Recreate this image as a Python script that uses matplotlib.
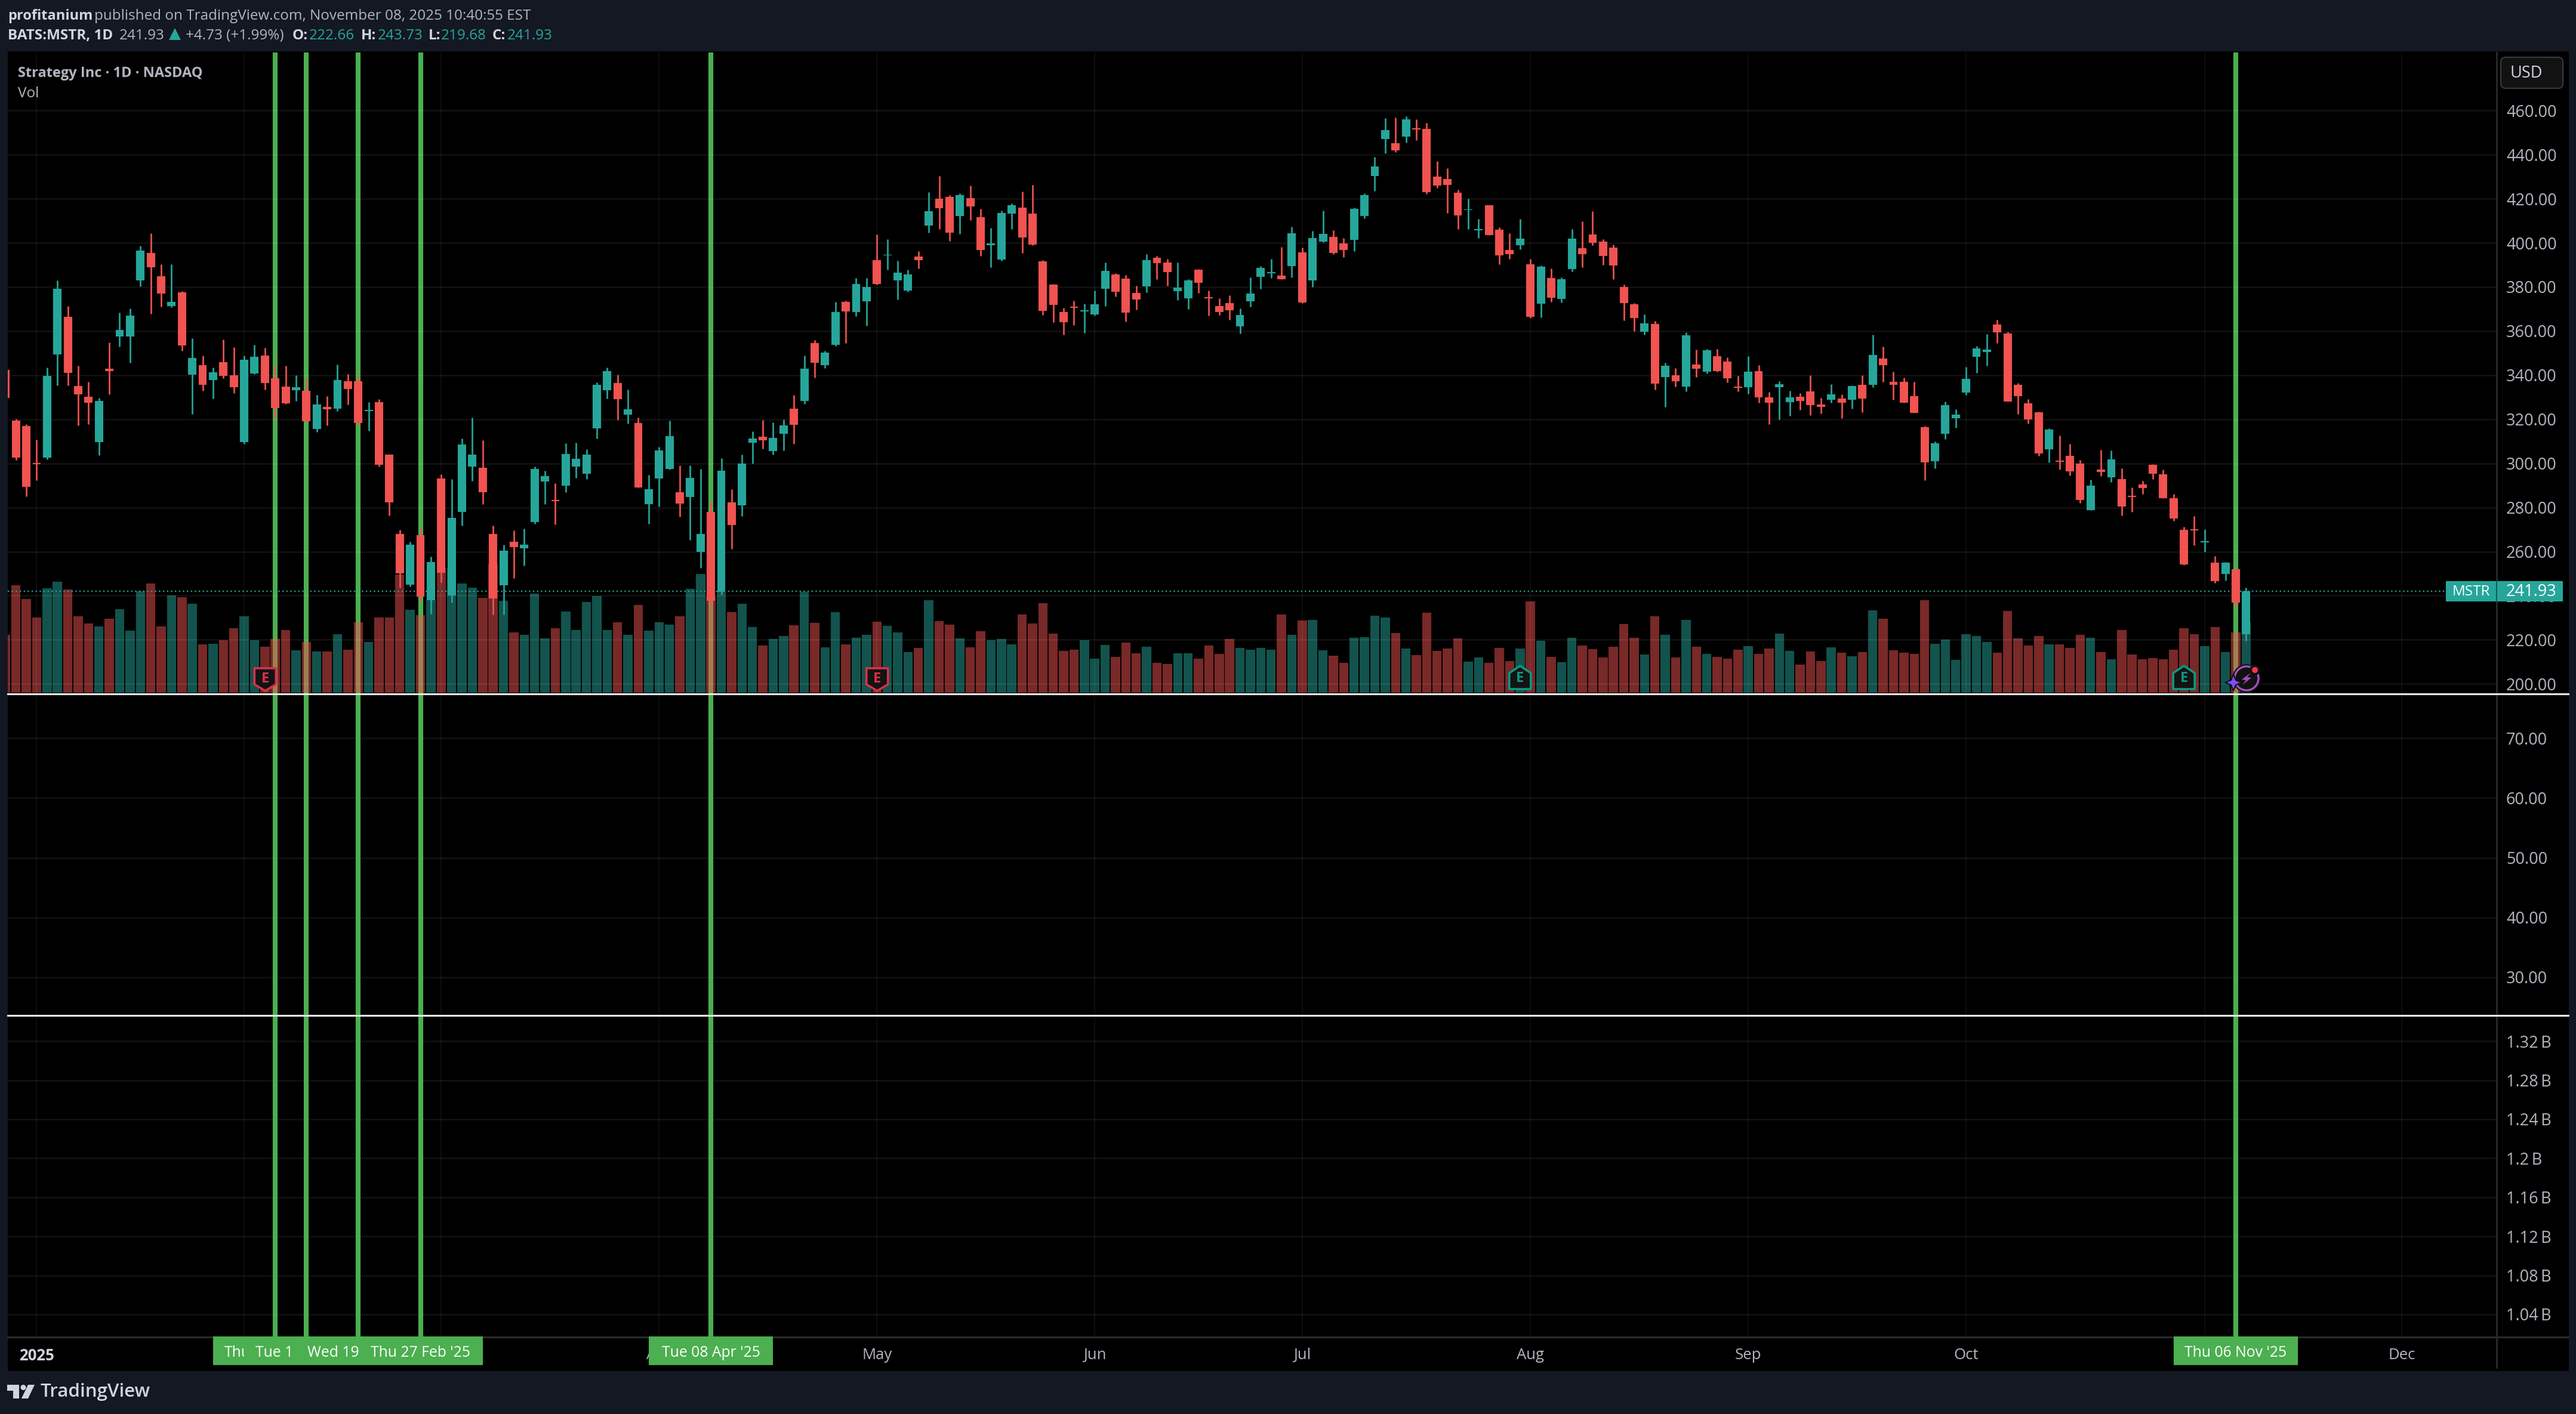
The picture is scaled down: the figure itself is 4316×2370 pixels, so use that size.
import matplotlib
matplotlib.use("Agg")
import matplotlib.pyplot as plt
from matplotlib.patches import Rectangle, Polygon, Circle, FancyBboxPatch
import numpy as np

# Daily MSTR candles, first entry is the bar clipped by the left edge
opens = [342.4,
    319.4, 317.0, 300.2, 302.7, 349.5, 366.4, 335.2, 330.2, 309.7, 342.8,
    357.5, 357.5, 383.0, 395.4, 384.9, 371.4, 377.6, 340.1, 344.5, 337.9,
    345.9, 339.9, 309.7, 340.8, 348.8, 338.7, 334.8, 333.1, 332.9, 315.7,
    325.5, 324.8, 337.2, 337.2, 323.8, 327.7, 303.9, 268.1, 245.0, 267.5,
    237.9, 293.2, 240.0, 278.0, 298.5, 298.1, 268.1, 244.7, 264.6, 261.5,
    273.5, 291.9, 283.4, 289.8, 298.5, 295.4, 315.9, 333.1, 336.4, 322.1,
    318.4, 281.6, 293.1, 297.5, 286.8, 284.8, 260.0, 278.1, 241.7, 282.4,
    281.0, 309.4, 312.1, 305.6, 313.4, 324.8, 328.2, 354.5, 344.5, 353.8,
    373.2, 368.6, 373.5, 392.2, 394.2, 382.9, 378.4, 393.8, 407.9, 420.1,
    420.8, 412.1, 420.2, 411.6, 398.9, 392.4, 413.2, 415.9, 413.2, 391.6,
    381.1, 368.6, 371.0, 368.8, 367.6, 379.1, 385.7, 383.9, 377.3, 380.2,
    393.3, 391.1, 378.1, 374.8, 387.7, 375.3, 371.4, 372.6, 362.1, 373.5,
    384.6, 386.2, 385.1, 389.5, 395.6, 382.9, 400.5, 402.7, 399.8, 401.4,
    412.1, 430.2, 447.1, 445.3, 448.2, 452.0, 451.6, 430.0, 429.0, 422.8,
    414.8, 405.8, 417.0, 406.0, 396.7, 398.9, 390.2, 372.4, 384.0, 374.6,
    388.2, 397.6, 403.8, 400.5, 397.8, 380.0, 372.1, 359.8, 363.2, 339.1,
    340.0, 334.8, 344.9, 341.6, 348.5, 346.2, 334.8, 334.6, 341.8, 329.9,
    334.6, 327.7, 330.2, 332.6, 326.8, 328.8, 329.3, 328.8, 335.7, 335.7,
    347.6, 336.9, 336.9, 330.4, 316.5, 301.1, 313.4, 320.5, 332.0, 348.4,
    350.5, 362.9, 359.0, 335.6, 327.3, 323.2, 306.4, 301.2, 303.5, 300.0,
    278.9, 297.3, 293.8, 293.0, 285.3, 290.5, 299.4, 295.0, 284.3, 270.0,
    270.2, 264.2, 255.1, 249.9, 252.0, 222.66]
closes = [329.6,
    302.7, 289.4, 299.6, 339.7, 379.3, 341.0, 331.2, 327.5, 328.3, 341.8,
    360.4, 367.1, 396.4, 389.0, 377.0, 373.3, 353.4, 347.8, 335.6, 341.4,
    339.7, 334.6, 347.0, 348.4, 336.4, 325.0, 327.3, 334.6, 319.0, 326.7,
    324.6, 337.9, 333.7, 318.4, 324.2, 299.4, 282.4, 250.1, 263.1, 239.5,
    255.3, 250.5, 275.2, 308.7, 303.9, 286.9, 238.7, 260.5, 262.1, 263.1,
    297.5, 294.2, 282.8, 304.3, 302.0, 303.9, 335.6, 341.8, 329.0, 324.6,
    289.0, 288.4, 306.0, 312.3, 281.9, 293.5, 267.9, 237.7, 296.7, 272.1,
    300.0, 311.2, 310.5, 311.6, 317.2, 317.6, 342.9, 345.5, 350.2, 368.6,
    368.8, 381.3, 380.0, 381.3, 394.7, 386.6, 385.7, 392.2, 414.3, 415.7,
    404.7, 421.7, 416.5, 396.7, 399.8, 413.6, 417.0, 402.5, 399.2, 369.2,
    371.9, 364.1, 370.5, 369.4, 372.1, 387.3, 377.9, 368.3, 374.3, 392.2,
    390.7, 386.8, 379.7, 382.9, 381.9, 374.8, 368.6, 369.4, 367.4, 377.0,
    388.6, 386.8, 383.5, 404.3, 373.0, 402.1, 404.1, 395.4, 396.7, 415.4,
    421.7, 434.6, 451.1, 442.0, 455.9, 451.4, 423.0, 426.1, 426.2, 412.5,
    415.2, 406.3, 403.6, 394.4, 394.9, 402.0, 366.5, 389.1, 375.2, 383.5,
    402.0, 394.9, 400.0, 394.0, 389.6, 372.6, 365.9, 363.6, 336.2, 344.4,
    337.3, 358.1, 342.9, 351.2, 341.8, 338.6, 334.2, 341.6, 329.9, 327.4,
    335.9, 329.9, 328.2, 326.3, 325.7, 331.3, 327.5, 335.1, 329.3, 349.1,
    344.5, 335.7, 327.5, 323.0, 300.5, 309.0, 326.4, 322.1, 338.4, 352.2,
    351.5, 359.4, 328.1, 330.4, 319.9, 304.5, 315.3, 300.6, 296.5, 283.4,
    289.8, 296.0, 301.9, 280.5, 284.7, 288.8, 295.4, 284.3, 275.1, 254.2,
    269.6, 264.8, 246.6, 255.1, 236.9, 241.93]
highs = [342.4,
    320.1, 317.8, 310.8, 343.5, 383.0, 371.4, 344.3, 337.0, 329.6, 354.8,
    368.3, 370.2, 398.7, 404.3, 390.2, 390.2, 378.0, 356.7, 348.8, 343.5,
    356.3, 352.8, 348.8, 353.8, 352.4, 344.5, 344.3, 339.9, 338.5, 331.0,
    330.4, 344.9, 340.6, 339.9, 327.7, 329.0, 303.9, 270.0, 264.6, 271.0,
    257.6, 295.0, 293.0, 311.4, 320.7, 310.5, 271.8, 263.1, 269.6, 270.4,
    298.5, 296.7, 291.1, 309.1, 309.3, 306.4, 336.6, 343.5, 340.1, 333.5,
    320.7, 294.8, 307.4, 319.4, 299.1, 299.1, 297.5, 283.0, 302.3, 288.2,
    304.0, 314.5, 319.7, 318.6, 319.9, 331.0, 348.9, 356.0, 351.1, 373.2,
    373.7, 384.0, 384.0, 403.8, 401.6, 391.8, 387.8, 396.2, 423.0, 430.2,
    421.7, 422.4, 426.1, 415.4, 406.9, 414.5, 417.9, 423.3, 426.2, 392.2,
    381.3, 370.5, 373.7, 372.4, 378.4, 391.1, 386.2, 385.5, 380.6, 394.9,
    394.0, 392.7, 391.1, 383.5, 388.2, 378.4, 374.8, 376.2, 370.3, 384.4,
    389.5, 392.7, 398.2, 407.4, 397.8, 405.4, 414.6, 405.8, 402.1, 416.1,
    422.4, 438.9, 456.5, 456.8, 457.4, 455.9, 454.3, 437.1, 433.8, 424.1,
    420.1, 410.8, 417.0, 407.0, 404.3, 410.8, 392.7, 389.8, 388.4, 384.2,
    406.3, 409.8, 414.3, 401.6, 399.3, 381.1, 372.6, 367.6, 364.7, 345.5,
    343.3, 359.4, 351.6, 351.8, 351.8, 348.0, 339.7, 348.5, 344.5, 332.4,
    337.3, 333.0, 331.9, 340.0, 329.7, 336.0, 331.3, 335.3, 340.0, 358.3,
    352.9, 341.6, 338.8, 336.9, 317.0, 310.0, 328.1, 324.6, 343.8, 353.2,
    358.6, 365.2, 359.6, 336.4, 329.0, 323.4, 315.9, 312.6, 308.9, 301.6,
    292.7, 306.2, 305.8, 297.7, 289.0, 292.1, 299.6, 297.3, 286.1, 271.2,
    276.2, 270.2, 258.0, 255.3, 252.0, 243.73]
lows = [329.6,
    301.6, 285.1, 292.3, 301.9, 335.4, 335.4, 317.2, 317.8, 303.7, 331.2,
    353.0, 345.7, 380.3, 367.9, 371.0, 370.8, 351.1, 322.3, 332.9, 329.4,
    338.7, 331.9, 308.9, 340.4, 333.5, 320.5, 326.9, 328.3, 318.6, 314.3,
    317.2, 323.8, 326.7, 317.2, 314.9, 298.7, 276.4, 243.7, 244.1, 237.3,
    231.7, 246.2, 236.9, 271.8, 292.1, 281.4, 231.5, 231.5, 248.0, 253.6,
    272.7, 281.6, 272.2, 286.9, 293.4, 293.0, 311.4, 329.4, 319.7, 318.0,
    289.0, 272.7, 280.4, 297.1, 275.9, 265.4, 252.5, 235.9, 240.4, 261.2,
    276.1, 300.0, 306.7, 304.0, 306.0, 308.9, 327.0, 338.9, 343.3, 353.2,
    354.5, 366.8, 362.5, 381.1, 387.7, 374.3, 377.9, 388.4, 404.7, 406.3,
    400.9, 404.1, 410.3, 394.0, 388.9, 392.0, 406.3, 395.4, 398.9, 367.4,
    364.1, 358.3, 362.7, 359.2, 367.0, 371.4, 375.7, 364.3, 369.7, 377.5,
    383.5, 380.6, 374.1, 369.9, 377.3, 367.0, 367.4, 365.2, 358.9, 371.0,
    379.1, 384.0, 383.4, 384.4, 372.8, 380.0, 400.3, 395.0, 393.5, 396.2,
    411.2, 423.5, 440.5, 441.1, 445.4, 446.5, 422.3, 425.0, 413.6, 406.3,
    406.3, 402.1, 403.6, 390.2, 392.7, 397.1, 365.8, 366.3, 373.2, 373.0,
    387.1, 388.9, 398.9, 390.0, 383.5, 364.8, 360.0, 358.3, 333.5, 325.7,
    334.8, 332.6, 339.1, 340.7, 341.6, 336.8, 332.6, 331.5, 327.5, 317.7,
    320.0, 321.5, 324.3, 321.9, 322.6, 327.5, 320.5, 324.8, 323.2, 334.6,
    336.9, 328.8, 327.5, 323.0, 292.4, 297.8, 311.0, 316.1, 330.9, 341.0,
    344.3, 354.6, 328.1, 322.3, 318.0, 303.5, 300.4, 297.3, 294.6, 282.0,
    278.9, 294.2, 291.5, 276.4, 278.0, 286.1, 293.0, 284.3, 273.9, 254.0,
    262.9, 259.8, 245.8, 247.0, 234.8, 219.68]
volumes_m = [19.4,
    36.0, 31.4, 25.2, 35.0, 37.3, 34.6, 25.6, 23.3, 22.3, 24.9,
    28.0, 20.8, 34.0, 36.6, 22.3, 32.6, 32.0, 29.8, 16.2, 16.4,
    17.7, 21.7, 25.6, 17.6, 15.5, 18.0, 21.1, 14.2, 17.0, 13.8,
    13.8, 19.6, 14.4, 23.7, 17.1, 25.2, 25.2, 39.6, 27.8, 26.0,
    31.0, 42.0, 41.8, 36.6, 35.3, 31.8, 43.0, 30.8, 20.2, 19.4,
    33.2, 18.2, 21.6, 27.2, 21.1, 30.4, 32.4, 21.1, 23.6, 19.4,
    29.4, 20.8, 23.6, 22.8, 25.6, 34.8, 39.8, 32.2, 33.8, 27.1,
    29.9, 22.1, 15.8, 18.1, 19.0, 22.6, 33.8, 23.5, 15.3, 27.1,
    16.2, 18.5, 19.4, 23.9, 22.4, 20.2, 13.7, 15.0, 31.1, 24.0,
    22.8, 18.2, 15.3, 20.6, 17.7, 18.1, 16.2, 26.3, 23.2, 30.0,
    19.8, 14.1, 14.5, 17.7, 11.4, 16.1, 12.1, 16.9, 13.3, 15.4,
    10.1, 9.6, 13.3, 13.3, 11.4, 15.8, 13.0, 18.1, 15.0, 14.5,
    15.0, 14.5, 26.3, 19.4, 24.3, 24.4, 14.2, 12.5, 10.1, 18.5,
    18.6, 25.9, 25.2, 20.1, 14.9, 12.6, 26.8, 14.1, 14.9, 18.2,
    10.5, 11.8, 10.1, 15.0, 10.6, 14.9, 30.7, 17.4, 12.1, 10.2,
    18.5, 15.8, 14.6, 11.8, 15.4, 23.0, 18.5, 12.9, 25.6, 19.4,
    11.8, 24.4, 15.4, 13.0, 12.1, 11.4, 14.5, 15.7, 13.0, 14.9,
    19.8, 14.1, 9.4, 13.8, 10.6, 15.3, 13.4, 12.2, 13.7, 27.6,
    24.8, 14.2, 13.4, 13.0, 31.1, 16.5, 17.8, 11.0, 19.7, 19.1,
    17.0, 13.5, 27.4, 18.2, 15.8, 19.1, 16.2, 16.2, 15.0, 19.4,
    18.4, 13.6, 11.2, 21.1, 12.9, 11.2, 11.6, 11.3, 14.4, 21.7,
    19.7, 15.6, 22.0, 13.6, 20.2, 23.7]

last_price = 241.93

# Bar numbers of the month marks, signal lines and earnings flags
# Feb, Mar and Nov sit behind the green date boxes, so only their grid lines show
month_idx = [3, 23, 42, 63, 84, 105, 125, 147, 168, 189, 212, 231]
month_labels = ["2025", "", "", "Apr", "May", "Jun", "Jul", "Aug", "Sep", "Oct", "", "Dec"]
signal_idx = [26, 29, 34, 40, 68, 215]
# the first three date boxes are overlapped, only the start of their text shows
signal_labels = ["Thu", "Tue 1", "Wed 19", "Thu 27 Feb '25", "Tue 08 Apr '25", "Thu 06 Nov '25"]
earn_idx_down = [25, 84]
earn_idx_up = [146, 210]

price_ticks = list(range(200, 480, 20))
mid_ticks = [30, 40, 50, 60, 70]
vol_ticks = [1.04, 1.08, 1.12, 1.16, 1.2, 1.24, 1.28, 1.32]
vol_tick_labels = ["1.04\u2009B", "1.08\u2009B", "1.12\u2009B", "1.16\u2009B", "1.2\u2009B",
                   "1.24\u2009B", "1.28\u2009B", "1.32\u2009B"]

W, H = 4316, 2370
UP = "#26a69a"
DOWN = "#f05350"
SIGNAL = "#4caf50"
FRAME = "#131823"
TXT = "#b2b5be"
FONT = "Open Sans"
HEAD = 17.5
plt.rcParams["font.family"] = [FONT, "DejaVu Sans"]

LEFT, RIGHT = 13, 4183
BAR_W = 17.38
X0 = 9.32  # pixel position of bar 0


def px(i):
    return X0 + BAR_W * i


def pane(top, bottom):
    return fig.add_axes([LEFT / W, 1 - bottom / H, (RIGHT - LEFT) / W, (bottom - top) / H])


fig = plt.figure(figsize=(W / 100, H / 100), dpi=100, facecolor=FRAME)

# black chart frame behind everything
back = fig.add_axes([0, 0, 1, 1], zorder=-1)
back.set_xlim(0, W)
back.set_ylim(H, 0)
back.axis("off")
back.add_patch(Rectangle((LEFT, 86), 4304 - LEFT, 2298 - 86, color="black", lw=0))

x = np.arange(len(opens))
opens = np.array(opens)
closes = np.array(closes)
colors = [UP if c >= o else DOWN for o, c in zip(opens, closes)]
xlim = ((LEFT - X0) / BAR_W, (RIGHT - X0) / BAR_W)

# volume layer, under the candles but over the signal lines
ax_vol = pane(88, 1163)
ax_vol.set_facecolor("none")
ax_vol.set_zorder(1)
ax_vol.set_xlim(xlim)
ax_vol.set_ylim(-0.4, 215)
ax_vol.axis("off")
for s in signal_idx:
    ax_vol.axvline(s, color=SIGNAL, lw=5.8, zorder=1)
ax_vol.bar(x, volumes_m, width=0.89, color=colors, alpha=0.5, lw=0, zorder=2)

# candles
ax = pane(88, 1163)
ax.set_facecolor("none")
ax.set_zorder(2)
ax.vlines(x, lows, highs, colors=colors, lw=1.9, zorder=3)
ax.bar(x, np.abs(closes - opens), bottom=np.minimum(opens, closes), width=0.8, color=colors, lw=0, zorder=4)
ax.axhline(last_price, color=UP, lw=1.6, ls=(0, (1, 2)), zorder=2)
ax.set_ylim(195.5, 486.3)
ax.set_yticks(price_ticks)
ax.set_yticklabels([f"{t:.2f}" for t in price_ticks])

# empty middle pane
ax2 = pane(1163, 1701.5)
ax2.set_ylim(23.66, 77.4)
ax2.set_yticks(mid_ticks)
ax2.set_yticklabels([f"{t:.2f}" for t in mid_ticks])

# empty lower pane, carries the time axis
ax3 = pane(1701.5, 2240.5)
ax3.set_ylim(1.017, 1.3467)
ax3.set_yticks(vol_ticks)
ax3.set_yticklabels(vol_tick_labels)

for a in (ax, ax2, ax3):
    a.set_xlim(xlim)
    a.set_xticks(month_idx)
    a.set_axisbelow(True)
    a.grid(axis="y", color="white", alpha=0.075, lw=1.8)
    a.grid(axis="x", color="white", alpha=0.055, lw=1.5)
    a.yaxis.tick_right()
    a.tick_params(axis="y", length=0, pad=11.5, labelsize=19.5, labelcolor=TXT)
    a.tick_params(axis="x", length=0, labelbottom=False)
    for spine in a.spines.values():
        spine.set_visible(False)
for a in (ax2, ax3):
    a.set_facecolor("none")
    for s in signal_idx:
        a.axvline(s, color=SIGNAL, lw=5.8, zorder=2)

ax3.tick_params(axis="x", labelbottom=True, pad=13.5, labelsize=18.5, labelcolor=TXT)
ax3.set_xticklabels(month_labels)
ax3.get_xticklabels()[0].set_fontweight("bold")
ax3.get_xticklabels()[0].set_color("#d1d4dc")

# overlay in pixel coordinates for the interface pieces
ov = fig.add_axes([0, 0, 1, 1], zorder=5)
ov.set_facecolor("none")
ov.set_xlim(0, W)
ov.set_ylim(H, 0)
ov.axis("off")

ov.plot([LEFT, 4303], [1163, 1163], color="#e8e8ea", lw=2.2)
ov.plot([LEFT, 4303], [1701.5, 1701.5], color="#e8e8ea", lw=2.2)
ov.plot([LEFT, 4303], [2241, 2241], color="#2a2a2a", lw=2.2, zorder=1)
ov.plot([RIGHT, RIGHT], [88, 2292], color="#2a2a2a", lw=2.0, zorder=1)

# date labels on the time axis, later boxes cover the earlier ones
for n, (s, lab) in enumerate(zip(signal_idx, signal_labels)):
    cx = px(s)
    ov.add_patch(Rectangle((cx - 104, 2240), 208, 48, color=SIGNAL, lw=0, zorder=10 + n))
    if "'" in lab:
        ov.text(cx, 2267, lab, color="white", fontsize=17.8, ha="center", va="center", zorder=10 + n)
    else:
        ov.text(cx - 85, 2267, lab, color="white", fontsize=17.8, ha="left", va="center", zorder=10 + n)

# header
ov.text(13, 27, "profitanium", color="#d1d4dc", fontsize=HEAD - 0.5, fontweight="bold", va="center")
ov.text(158, 27, "published on TradingView.com, November 08, 2025 10:40:55 EST", color="#b2b5be", fontsize=HEAD, va="center")
ov.text(13, 60, "BATS:MSTR, 1D", color="#d1d4dc", fontsize=HEAD, fontweight="bold", va="center")
ov.text(200, 60, "241.93", color="#b2b5be", fontsize=HEAD, va="center")
ov.add_patch(Polygon([(283, 67), (303, 67), (293, 47)], color=UP, lw=0))
ov.text(311, 60, "+4.73 (+1.99%)", color="#b2b5be", fontsize=HEAD, va="center")
for lab, lab_x, val, val_x in [("O:", 490, "222.66", 518), ("H:", 605, "243.73", 633),
                               ("L:", 718, "219.68", 739), ("C:", 825, "241.93", 850)]:
    ov.text(lab_x, 60, lab, color="#d1d4dc", fontsize=HEAD, fontweight="bold", va="center")
    ov.text(val_x, 60, val, color=UP, fontsize=HEAD, va="center")

ov.text(30, 123, "Strategy Inc · 1D · NASDAQ", color=TXT, fontsize=17, fontweight="bold", va="center")
ov.text(30, 157, "Vol", color=TXT, fontsize=HEAD, va="center")

# currency button and last price tag
ov.add_patch(FancyBboxPatch((4194, 100), 96, 44, boxstyle="round,pad=4,rounding_size=8",
                            fc="#121212", ec="#363a45", lw=1.5))
ov.text(4233, 123, "USD", color="#d1d4dc", fontsize=19.5, ha="center", va="center")
tag_y = 185.2 + (460 - last_price) * 3.697
ov.add_patch(Rectangle((4098, tag_y - 17), 196, 34, color=UP, lw=0))
ov.plot([RIGHT, RIGHT], [tag_y - 17, tag_y + 17], color="#0d5f58", lw=1.5)
ov.text(4140.5, tag_y + 1, "MSTR", color="white", fontsize=17.5, ha="center", va="center")
ov.text(4241, tag_y + 1, "241.93", color="white", fontsize=19.5, ha="center", va="center")

# earnings flags
for i in earn_idx_down:
    c = px(i) + 0.5
    ov.add_patch(Polygon([(c - 18, 1120), (c + 18, 1120), (c + 18, 1147), (c, 1158), (c - 18, 1147)],
                         closed=True, fc="#131313", ec="#d9304a", lw=2.6, joinstyle="round"))
    ov.text(c, 1138, "E", color="#d9304a", fontsize=17, fontweight="bold", ha="center", va="center")
for i in earn_idx_up:
    c = px(i)
    ov.add_patch(Polygon([(c - 18, 1128), (c, 1116), (c + 18, 1128), (c + 18, 1155), (c - 18, 1155)],
                         closed=True, fc="#131313", ec="#089981", lw=2.6, joinstyle="round"))
    ov.text(c, 1137, "E", color="#089981", fontsize=17, fontweight="bold", ha="center", va="center")

# news badge on the last bar
ov.add_patch(Circle((3764, 1137), 23, fc="#111111", ec="#111111", lw=1))
ov.add_patch(Circle((3764, 1137), 20, fc="#111111", ec="#a44fc0", lw=2.4))
ov.add_patch(Polygon([(3772, 1127), (3756, 1139), (3763, 1140), (3757, 1148), (3772, 1136), (3765, 1135)],
                     color="#a44fc0", lw=0))
ov.add_patch(Circle((3778, 1123), 9, fc="#111111", lw=0))
ov.add_patch(Circle((3778, 1123), 5, fc="#f23645", lw=0))
ov.add_patch(Polygon([(3742, 1130), (3746, 1140), (3756, 1144), (3746, 1148), (3742, 1158),
                      (3738, 1148), (3728, 1144), (3738, 1140)], fc="#7c4dff", ec="#111111", lw=1.5))

# TradingView mark in the footer
logo = "#d1d4dc"
ov.add_patch(Polygon([(12, 2321), (32, 2321), (32, 2344), (22, 2344), (22, 2331), (12, 2331)], color=logo, lw=0))
ov.add_patch(Circle((39, 2325.5), 4.5, color=logo, lw=0))
ov.add_patch(Polygon([(47, 2321), (58, 2321), (47, 2344), (36, 2344)], color=logo, lw=0))
ov.text(67, 2333, "TradingView", color=logo, fontsize=22.5, fontweight="semibold", va="center")

fig.savefig("out.png", dpi=100, facecolor=FRAME)
